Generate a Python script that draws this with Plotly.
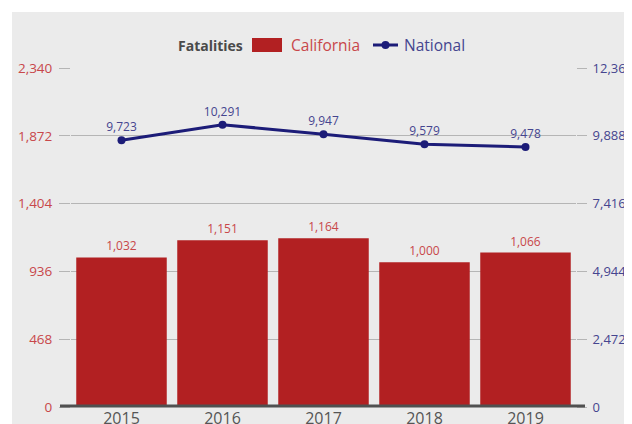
import plotly.graph_objects as go

years = ["2015", "2016", "2017", "2018", "2019"]
california = [1032, 1151, 1164, 1000, 1066]
national = [9723, 10291, 9947, 9579, 9478]
left_ticks = [0, 468, 936, 1404, 1872, 2340]
right_ticks = [0, 2472, 4944, 7416, 9888, 12360]

RED = "#b22022"
RED_TXT = "#c8474a"
NAVY = "#1c1c78"
NAVY_TXT = "#45458f"
FONT = "Open Sans, Lato, sans-serif"

# page body has an 8px margin; figure is placed at (8, 8)
OFF = 8
W, H = 624, 416
L, T = 63, 60
pw, ph = 505, 339
R = W - L - pw
B = H - T - ph

def px_x(p):
    return (p - OFF - L) / pw

def px_y(p):
    return (OFF + T + ph - p) / ph

fig = go.Figure()
fig.add_trace(go.Bar(
    x=years, y=california, name="California",
    marker=dict(color=RED, line=dict(width=0)),
    text=[f"{v:,}" for v in california], textposition="outside",
    textfont=dict(color=RED_TXT, size=12, family=FONT),
    cliponaxis=False, yaxis="y",
))
fig.add_trace(go.Scatter(
    x=years, y=national, name="National",
    mode="lines+markers+text",
    line=dict(color=NAVY, width=3), marker=dict(color=NAVY, size=8),
    text=[f"{v:,}" for v in national], textposition="top center",
    textfont=dict(color=NAVY_TXT, size=12, family=FONT),
    cliponaxis=False, yaxis="y2",
))

LEG_Y = px_y(45)
annotations = [
    dict(text="<b>Fatalities</b>", xref="paper", yref="paper",
         x=px_x(245), y=LEG_Y, xanchor="right", yanchor="middle", showarrow=False,
         font=dict(color="#4a4a4a", size=14, family=FONT)),
    dict(text="California", xref="paper", yref="paper",
         x=px_x(289), y=LEG_Y, xanchor="left", yanchor="middle", showarrow=False,
         font=dict(color=RED_TXT, size=15.5, family=FONT)),
    dict(text="National", xref="paper", yref="paper",
         x=px_x(402), y=LEG_Y, xanchor="left", yanchor="middle", showarrow=False,
         font=dict(color=NAVY_TXT, size=15.5, family=FONT)),
]

shapes = [
    dict(type="rect", xref="paper", yref="paper",
         x0=px_x(12), x1=px_x(660), y0=px_y(12), y1=px_y(440),
         fillcolor="#ebebeb", line=dict(width=0), layer="below"),
    dict(type="line", xref="paper", yref="paper",
         x0=px_x(60), x1=px_x(585), y0=px_y(406), y1=px_y(406),
         line=dict(color="#505050", width=3), layer="above"),
    dict(type="rect", xref="paper", yref="paper",
         x0=px_x(252), x1=px_x(282), y0=px_y(38), y1=px_y(52),
         fillcolor=RED, line=dict(width=0)),
    dict(type="line", xref="paper", yref="paper",
         x0=px_x(373), x1=px_x(398), y0=LEG_Y, y1=LEG_Y,
         line=dict(color=NAVY, width=3)),
    dict(type="circle", xref="paper", yref="paper",
         x0=px_x(381.5), x1=px_x(389.5), y0=px_y(41), y1=px_y(49),
         fillcolor=NAVY, line=dict(width=0)),
]

fig.update_layout(
    width=W, height=H,
    margin=dict(l=L, r=R, t=T, b=B, pad=0, autoexpand=False),
    paper_bgcolor="white",
    plot_bgcolor="rgba(0,0,0,0)",
    font=dict(family=FONT, size=13, color="#444"),
    bargap=0.104,
    showlegend=False,
    xaxis=dict(
        type="category", showgrid=False, zeroline=False, showline=False,
        ticks="", tickfont=dict(color="#555", size=16, family=FONT),
        range=[-0.5, 4.5], automargin=False,
    ),
    yaxis=dict(
        range=[0, 2340], tickvals=left_ticks, ticktext=[f"{v:,}" for v in left_ticks],
        showgrid=True, gridcolor="#b5b5b5", gridwidth=1, zeroline=False,
        ticks="outside", ticklen=11, tickcolor="#b5b5b5", tickwidth=1,
        tickfont=dict(color=RED_TXT, size=13.5, family=FONT), ticklabelstandoff=4,
        automargin=False,
    ),
    yaxis2=dict(
        range=[0, 12360], tickvals=right_ticks, ticktext=[f"{v:,}" for v in right_ticks],
        overlaying="y", side="right", showgrid=False, zeroline=False,
        ticks="outside", ticklen=10, tickcolor="#b5b5b5", tickwidth=1,
        tickfont=dict(color=NAVY_TXT, size=13, family=FONT), ticklabelstandoff=3,
        automargin=False,
    ),
    shapes=shapes,
    annotations=annotations,
)

fig.write_html("out.html")
